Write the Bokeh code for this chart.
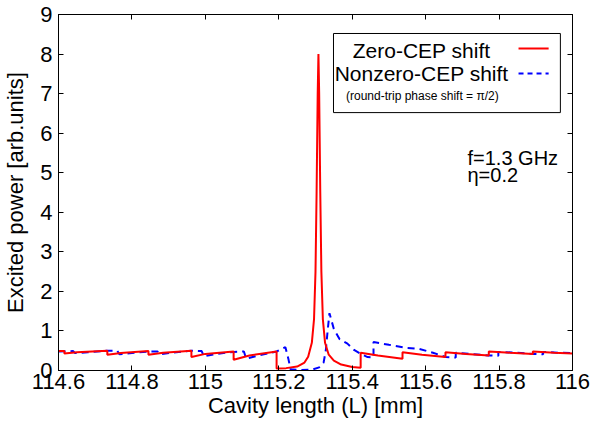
from bokeh.plotting import figure
from bokeh.models import (Range1d, FixedTicker, LinearAxis, BoxAnnotation, Label, Arrow)
from bokeh.embed import file_html
from bokeh.resources import INLINE

# ---- data ----
red_L = [114.600, 114.616, 114.616, 114.650, 114.733, 114.733, 114.770, 114.845, 114.845, 114.885,
         114.962, 114.962, 115.000, 115.077, 115.077, 115.120, 115.194, 115.194, 115.220, 115.250,
         115.270, 115.280, 115.290, 115.296, 115.300, 115.303, 115.306, 115.308, 115.310, 115.313,
         115.316, 115.320, 115.326, 115.336, 115.350, 115.370, 115.400, 115.423, 115.423, 115.470,
         115.537, 115.537, 115.590, 115.654, 115.654, 115.710, 115.772, 115.772, 115.830, 115.892,
         115.892, 115.950, 116.000]
red_P = [0.49, 0.49, 0.43, 0.46, 0.50, 0.40, 0.44, 0.49, 0.40, 0.45,
         0.50, 0.34, 0.42, 0.48, 0.27, 0.38, 0.48, 0.05, 0.06, 0.10,
         0.20, 0.35, 0.70, 1.30, 2.50, 4.50, 7.00, 8.00, 7.00, 4.50,
         2.50, 1.30, 0.70, 0.40, 0.25, 0.15, 0.09, 0.07, 0.45, 0.38,
         0.30, 0.46, 0.40, 0.34, 0.46, 0.42, 0.38, 0.48, 0.45, 0.42,
         0.48, 0.45, 0.43]

blue_L = [114.600, 114.640, 114.645, 114.680, 114.733, 114.760, 114.766, 114.800, 114.845, 114.870,
          114.876, 114.910, 114.962, 114.990, 114.996, 115.030, 115.077, 115.105, 115.111, 115.150,
          115.194, 115.218, 115.226, 115.232, 115.260, 115.290, 115.310, 115.322, 115.328, 115.333,
          115.338, 115.350, 115.365, 115.387, 115.405, 115.423, 115.442, 115.458, 115.458, 115.500,
          115.550, 115.580, 115.620, 115.655, 115.682, 115.682, 115.730, 115.772, 115.798, 115.798,
          115.850, 115.892, 115.920, 115.920, 115.960, 116.000]
blue_P = [0.48, 0.49, 0.44, 0.46, 0.50, 0.50, 0.41, 0.44, 0.48, 0.48,
          0.41, 0.45, 0.50, 0.49, 0.36, 0.42, 0.47, 0.48, 0.30, 0.39,
          0.48, 0.59, 0.30, 0.03, 0.01, 0.02, 0.08, 0.20, 0.50, 1.00,
          1.45, 1.05, 0.80, 0.68, 0.52, 0.42, 0.34, 0.33, 0.72, 0.65,
          0.57, 0.55, 0.45, 0.34, 0.33, 0.45, 0.41, 0.38, 0.37, 0.47,
          0.45, 0.42, 0.41, 0.47, 0.45, 0.44]

x_ticks = [114.6, 114.8, 115.0, 115.2, 115.4, 115.6, 115.8, 116.0]
x_tick_labels = ["114.6", "114.8", "115", "115.2", "115.4", "115.6", "115.8", "116"]
y_ticks = [0, 1, 2, 3, 4, 5, 6, 7, 8, 9]

series_names = ["Zero-CEP shift", "Nonzero-CEP shift"]
legend_note = "(round-trip phase shift = \u03c0/2)"
annot_lines = ["f=1.3 GHz", "\u03b7=0.2"]

FONT = "Liberation Sans"

p = figure(width=595, height=422, output_backend="svg", toolbar_location=None,
           x_range=Range1d(114.6, 116.0), y_range=Range1d(0, 9),
           min_border_left=58, min_border_right=23, min_border_top=14, min_border_bottom=52)
p.background_fill_color = "white"
p.border_fill_color = "white"
p.outline_line_color = "black"
p.outline_line_width = 1
p.grid.visible = False

def style_axis(ax, ticks, show_labels, overrides=None):
    ax.ticker = FixedTicker(ticks=ticks)
    ax.major_tick_in = 5
    ax.major_tick_out = 0
    ax.minor_tick_line_color = None
    ax.axis_line_color = "black"
    ax.major_tick_line_color = "black"
    ax.major_label_text_font = FONT
    ax.axis_label_text_font = FONT
    ax.axis_label_text_font_style = "normal"
    ax.axis_label_text_color = "black"
    if overrides:
        ax.major_label_overrides = overrides
    if show_labels:
        ax.major_label_text_color = "black"
        ax.major_label_text_font_size = "22px"
        ax.axis_label_text_font_size = "22px"
    else:
        ax.major_label_text_color = None
        ax.major_label_text_font_size = "1px"
        ax.major_label_standoff = 0

xo = {t: l for t, l in zip(x_ticks, x_tick_labels)}
style_axis(p.xaxis[0], x_ticks, True, xo)
style_axis(p.yaxis[0], y_ticks, True)
p.xaxis[0].axis_label = "Cavity length (L) [mm]"
p.yaxis[0].axis_label = "Excited power [arb.units]"
p.xaxis[0].major_label_standoff = 3
p.xaxis[0].axis_label_standoff = 1
p.yaxis[0].major_label_standoff = 6
p.yaxis[0].axis_label_standoff = 9

top_ax = LinearAxis()
style_axis(top_ax, x_ticks, False)
p.add_layout(top_ax, "above")
right_ax = LinearAxis()
style_axis(right_ax, y_ticks, False)
p.add_layout(right_ax, "right")

p.line(blue_L, blue_P, line_color="#0000ff", line_width=2, line_dash="7 5")
p.line(red_L, red_P, line_color="#ff0000", line_width=2)

# legend box (decoration)
p.add_layout(BoxAnnotation(left=115.349, right=115.967, bottom=6.52, top=8.52,
                           fill_color="white", fill_alpha=1.0, line_color="black",
                           line_width=1, line_alpha=1.0))
p.add_layout(Label(x=115.589, y=8.09, text=series_names[0], text_align="center",
                   text_baseline="middle", text_font=FONT, text_font_size="21px", text_color="black"))
p.add_layout(Label(x=115.589, y=7.51, text=series_names[1], text_align="center",
                   text_baseline="middle", text_font=FONT, text_font_size="21px", text_color="black"))
p.add_layout(Label(x=115.591, y=6.95, text=legend_note, text_align="center",
                   text_baseline="middle", text_font=FONT, text_font_size="12px", text_color="black"))
p.add_layout(Arrow(x_start=115.853, y_start=8.14, x_end=115.935, y_end=8.14, end=None, start=None,
                   line_color="#ff0000", line_width=2))
p.add_layout(Arrow(x_start=115.853, y_start=7.51, x_end=115.935, y_end=7.51, end=None, start=None,
                   line_color="#0000ff", line_width=2, line_dash="5 4"))

p.add_layout(Label(x=115.714, y=5.38, text=annot_lines[0], text_align="left",
                   text_baseline="middle", text_font=FONT, text_font_size="20px", text_color="black"))
p.add_layout(Label(x=115.714, y=4.95, text=annot_lines[1], text_align="left",
                   text_baseline="middle", text_font=FONT, text_font_size="20px", text_color="black"))

open("out.html", "w").write(file_html(p, INLINE))
